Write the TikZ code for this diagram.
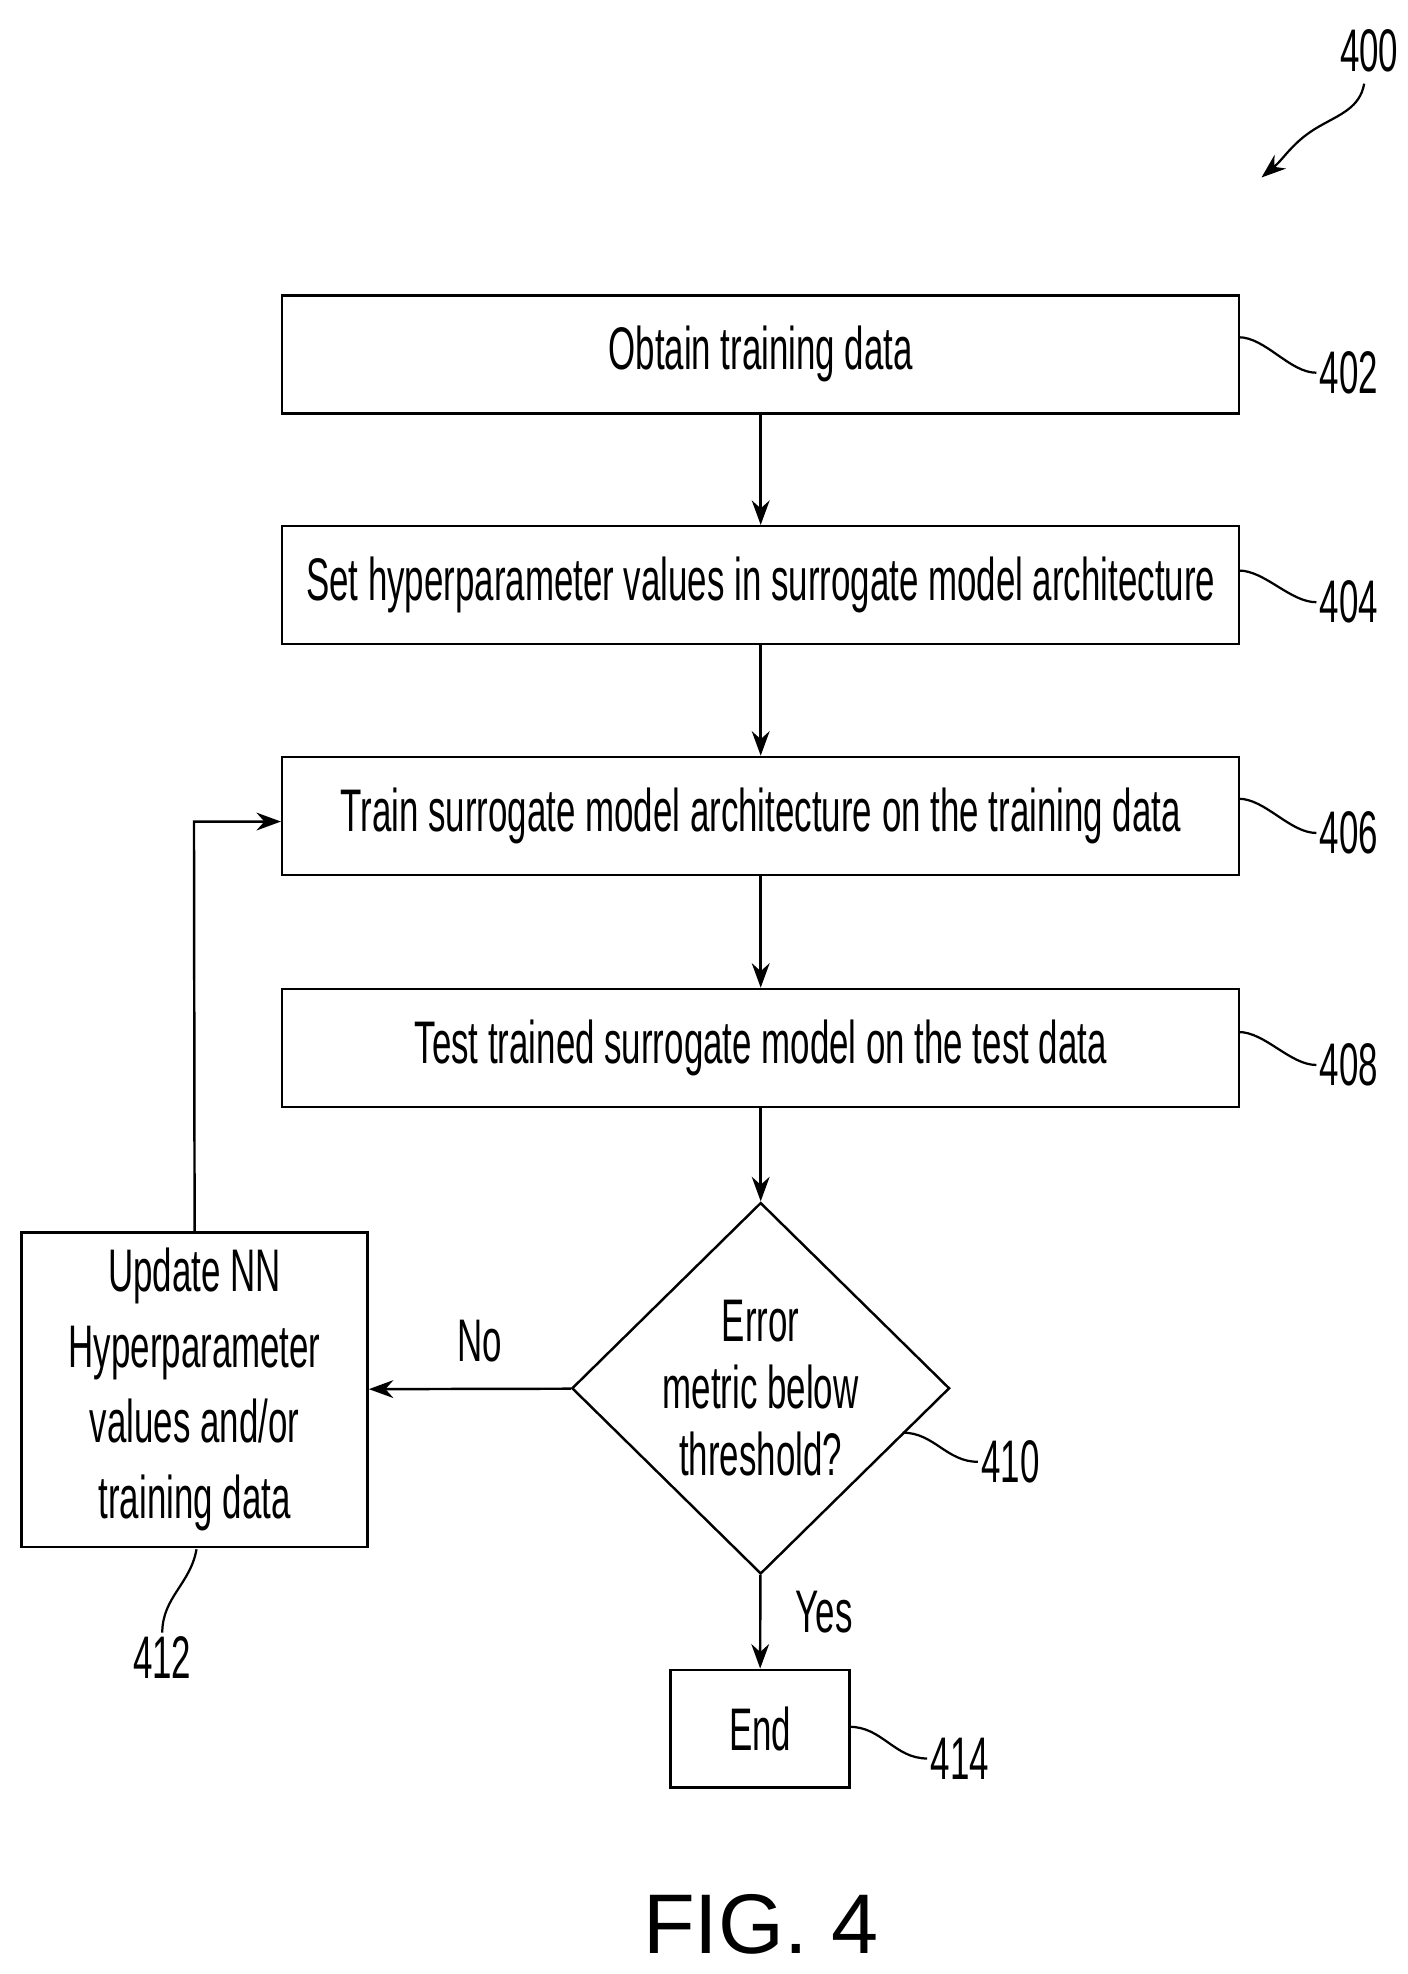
\documentclass[tikz,border=0pt]{standalone}
\usepackage{fontspec}
\setmainfont{Liberation Sans}[FakeStretch=0.58]
\newfontfamily\figfont{Liberation Sans}
\usetikzlibrary{shapes.geometric,arrows.meta}

\begin{document}
\begin{tikzpicture}[x=0.02cm,y=-0.02cm,line width=1.1pt,>={Stealth[length=11pt,width=8pt]},
  font=\fontsize{27}{30}\selectfont]
  \tikzstyle{stage}=[draw,rectangle,minimum width=15.1cm,minimum height=1.86cm,inner sep=0pt]
  \tikzstyle{decide}=[draw,diamond,minimum width=5.96cm,minimum height=5.32cm,inner sep=0pt,align=center]
  \tikzstyle{lead}=[line width=1pt]
  \tikzstyle{ref}=[inner sep=1pt]

  \useasboundingbox (0,0) rectangle (1110,1557);

  \node[stage] (s402) at (600,279.5) {Obtain training data};
  \node[stage] (s404) at (600,461.5) {Set hyperparameter values in surrogate model architecture};
  \node[stage] (s406) at (600,643.5) {Train surrogate model architecture on the training data};
  \node[stage] (s408) at (600,826.5) {Test trained surrogate model on the test data};
  \node[decide] (s410) at (600,1095) {Error\\metric below\\threshold?};
  \node[draw,minimum width=5.46cm,minimum height=4.96cm,inner sep=0pt,align=center,
    font=\fontsize{27}{34}\selectfont] (s412) at (153.5,1096) {Update NN\\Hyperparameter\\values and/or\\training data};
  \node[draw,minimum width=2.82cm,minimum height=1.86cm,inner sep=0pt] (s414) at (599.5,1363.5) {End};

  \draw[->] (s402) -- (s404);
  \draw[->] (s404) -- (s406);
  \draw[->] (s406) -- (s408);
  \draw[->] (s408) -- (s410);
  \draw[->] (s410) -- node[above=8pt,pos=0.45] {No} (s412);
  \draw[->] (s410) -- node[right=12pt,pos=0.4] {Yes} (s414);
  \coordinate (loop) at (153,648);
  \draw[->] (s412.north) -- (loop) -- (s406.west |- loop);

  % reference numerals
  \node[ref] (n402) at (1064,294) {402};
  \node[ref] (n404) at (1064,475) {404};
  \node[ref] (n406) at (1064,657) {406};
  \node[ref] (n408) at (1064,840) {408};
  \node[ref] (n410) at (797,1153) {410};
  \node[ref] (n412) at (128,1307) {412};
  \node[ref] (n414) at (757,1387) {414};
  \node[ref] (n400) at (1080,40) {400};
  \draw[lead] (977,266) to[out=0,in=180,looseness=0.8] (n402.west);
  \draw[lead] (977,450) to[out=0,in=180,looseness=0.8] (n404.west);
  \draw[lead] (977,630) to[out=0,in=180,looseness=0.8] (n406.west);
  \draw[lead] (977,814) to[out=0,in=180,looseness=0.8] (n408.west);
  \draw[lead] (712,1130) to[out=0,in=180] (n410.west);
  \draw[lead] (155,1222) to[out=-100,in=90] (n412.north);
  \draw[lead] (670,1362) to[out=0,in=180] (n414.west);
  \coordinate (a400) at (995,140);
  \draw[lead,->] (1076,66) to[out=-100,in=30] (1040,100) to[out=-150,in=40] (a400);

  \node[font=\figfont\fontsize{38}{44}\selectfont] (fig) at (600,1518) {FIG. 4};
\end{tikzpicture}
\end{document}
